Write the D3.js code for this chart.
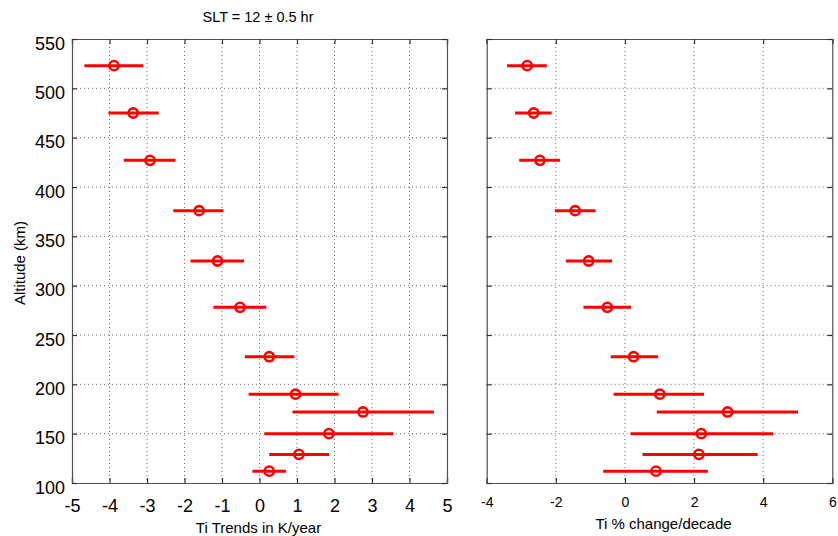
<!DOCTYPE html>
<html>
<head>
<meta charset="utf-8">
<script src="https://cdn.jsdelivr.net/npm/d3@7"></script>
<style>
  html, body { margin: 0; padding: 0; background: #fff; }
  svg { display: block; }
  text { font-family: "Liberation Sans", Arial, Helvetica, sans-serif; fill: #000; }
</style>
</head>
<body>
<svg id="chart" width="838" height="536"></svg>
<script>
// ---- data ----
const altitudes = [523, 475, 427, 376, 325, 278, 228, 190, 172, 150, 129, 112];
const kTrend    = [-3.88, -3.37, -2.92, -1.61, -1.12, -0.52, 0.26, 0.96, 2.76, 1.85, 1.05, 0.26];
const kLow      = [-4.67, -4.03, -3.62, -2.30, -1.84, -1.23, -0.39, -0.29, 0.88, 0.13, 0.26, -0.19];
const kHigh     = [-3.10, -2.69, -2.24, -0.96, -0.41, 0.18, 0.93, 2.11, 4.65, 3.57, 1.86, 0.71];
const pctTrend  = [-2.83, -2.64, -2.46, -1.44, -1.05, -0.51, 0.25, 1.01, 2.97, 2.21, 2.14, 0.90];
const pctLow    = [-3.41, -3.18, -3.06, -2.03, -1.71, -1.20, -0.41, -0.33, 0.92, 0.16, 0.51, -0.63];
const pctHigh   = [-2.26, -2.12, -1.88, -0.85, -0.37, 0.18, 0.96, 2.29, 5.01, 4.29, 3.84, 2.40];

const altTicks   = [100, 150, 200, 250, 300, 350, 400, 450, 500, 550];
const kTicks     = [-5, -4, -3, -2, -1, 0, 1, 2, 3, 4, 5];
const pctTicks   = [-4, -2, 0, 2, 4, 6];

const titleText  = "SLT = 12 \u00b1 0.5 hr";
const yLabel     = "Altitude (km)";
const xLabelLeft = "Ti Trends in K/year";
const xLabelRight= "Ti % change/decade";

// ---- layout ----
const svg = d3.select("#chart");
const yTop = 39, yBot = 483;
const y = d3.scaleLinear().domain([100, 550]).range([yBot, yTop]);

const panels = [
  { x0: 72, x1: 447, domain: [-5, 5], ticks: kTicks, mid: kTrend, lo: kLow, hi: kHigh,
    label: xLabelLeft, showY: true, tickFont: 18, tickBase: 29, labelBase: 50 },
  { x0: 486.7, x1: 832.3, domain: [-4, 6], ticks: pctTicks, mid: pctTrend, lo: pctLow, hi: pctHigh,
    label: xLabelRight, showY: false, tickFont: 14, tickBase: 24, labelBase: 46 }
];

const red = "#ff0000";

panels.forEach(p => {
  const x = d3.scaleLinear().domain(p.domain).range([p.x0, p.x1]);
  const g = svg.append("g");

  // grid
  const grid = g.append("g").attr("stroke", "#6a6a6a").attr("stroke-width", 1)
    .attr("stroke-dasharray", "1,3").attr("fill", "none");
  p.ticks.slice(1, -1).forEach(t => {
    grid.append("line").attr("x1", x(t)).attr("x2", x(t)).attr("y1", yTop).attr("y2", yBot);
  });
  altTicks.slice(1, -1).forEach(t => {
    grid.append("line").attr("x1", p.x0).attr("x2", p.x1).attr("y1", y(t)).attr("y2", y(t));
  });

  // axes with inward ticks
  const axB = g.append("g").attr("transform", `translate(0,${yBot})`)
    .call(d3.axisBottom(x).tickValues(p.ticks).tickSize(-5).tickPadding(0).tickFormat(d3.format("d")));
  const axT = g.append("g").attr("transform", `translate(0,${yTop})`)
    .call(d3.axisTop(x).tickValues(p.ticks).tickSize(-5).tickFormat(""));
  const axL = g.append("g").attr("transform", `translate(${p.x0},0)`)
    .call(d3.axisLeft(y).tickValues(altTicks).tickSize(-5).tickFormat(p.showY ? d3.format("d") : ""));
  const axR = g.append("g").attr("transform", `translate(${p.x1},0)`)
    .call(d3.axisRight(y).tickValues(altTicks).tickSize(-5).tickFormat(""));

  [axB, axT, axL, axR].forEach(a => {
    a.select(".domain").attr("stroke", "#505050").attr("stroke-width", 1.2);
    a.selectAll(".tick line").attr("stroke", "#303030").attr("stroke-width", 1.2);
  });
  axB.selectAll(".tick text")
    .attr("y", p.tickBase).attr("dy", null)
    .style("font-size", p.tickFont + "px")
    .style("font-family", "'Liberation Sans', Arial, sans-serif")
    .attr("fill", "#000")
    .text(d => d < 0 ? "-" + Math.abs(d) : String(d));
  if (p.showY) {
    axL.selectAll(".tick text")
      .attr("x", -7).attr("dy", "10").attr("y", 0)
      .style("font-size", "18px")
      .style("font-family", "'Liberation Sans', Arial, sans-serif")
      .attr("fill", "#000");
  }

  // x label
  g.append("text")
    .attr("x", (p.x0 + p.x1) / 2 + (p.showY ? -1 : 4))
    .attr("y", yBot + p.labelBase)
    .attr("text-anchor", "middle")
    .style("font-size", "15px")
    .text(p.label);

  // error bars
  const data = altitudes.map((a, i) => ({ a, m: p.mid[i], lo: p.lo[i], hi: p.hi[i] }));
  g.append("g").selectAll("line").data(data).join("line")
    .attr("x1", d => x(d.lo)).attr("x2", d => x(d.hi))
    .attr("y1", d => y(d.a)).attr("y2", d => y(d.a))
    .attr("stroke", red).attr("stroke-width", 3);
  g.append("g").selectAll("circle").data(data).join("circle")
    .attr("cx", d => x(d.m)).attr("cy", d => y(d.a)).attr("r", 4.6)
    .attr("fill", "none").attr("stroke", red).attr("stroke-width", 2.6);
});

// title
svg.append("text").attr("x", 258).attr("y", 22).attr("text-anchor", "middle")
  .style("font-size", "14.5px").text(titleText);

// y label
svg.append("text")
  .attr("transform", "translate(25,263) rotate(-90)")
  .attr("text-anchor", "middle")
  .style("font-size", "15px")
  .text(yLabel);
</script>
</body>
</html>
